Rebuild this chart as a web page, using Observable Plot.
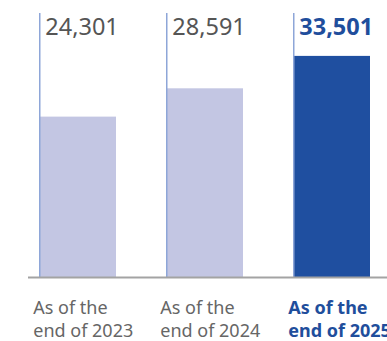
<!DOCTYPE html>
<html>
<head>
<meta charset="utf-8">
<script src="https://cdn.jsdelivr.net/npm/d3@7"></script>
<script src="https://cdn.jsdelivr.net/npm/@observablehq/plot@0.6"></script>
<style>
  html, body { margin: 0; padding: 0; background: #fff; }
  #chart svg { display: block; }
</style>
</head>
<body>
<div id="chart"></div>
<script>
const categories = ["2023", "2024", "2025"];
const values = [24301, 28591, 33501];
const labelPrefix = "As of the\nend of ";
const highlight = "2025";

const data = categories.map((c, i) => ({cat: c, value: values[i]}));

const light = "#c3c6e3";
const dark = "#1f4fa0";
const font = "'Noto Sans', sans-serif";

const rangeX = [39, 370.5];
const padIn = 0.39;
const step = (rangeX[1] - rangeX[0]) / (categories.length - padIn);
const bw = step * (1 - padIn);
const half = bw / 2;

const chart = Plot.plot({
  width: 387,
  height: 341,
  marginTop: 13,
  marginBottom: 64,
  marginLeft: 28,
  marginRight: 0,
  style: {fontFamily: font, background: "#fff"},
  x: {domain: categories, range: rangeX, paddingInner: padIn, paddingOuter: 0, axis: null},
  y: {domain: [0, 40000], axis: null},
  marks: [
    Plot.barY(data, {x: "cat", y: "value", fill: d => d.cat === highlight ? dark : light}),
    Plot.ruleX(data, {x: "cat", y1: 0, y2: 40000, dx: -half + 0.5, stroke: "#8ea6d8", strokeWidth: 1.5}),
    Plot.ruleY([0], {stroke: "#a3a3a3", strokeWidth: 2}),
    Plot.text(data.filter(d => d.cat !== highlight), {
      x: "cat", y: () => 40000, text: d => d3.format(",")(d.value),
      textAnchor: "start", lineAnchor: "top", dx: -half + 6, dy: 5,
      fontSize: 23.5, fill: "#555555"
    }),
    Plot.text(data.filter(d => d.cat === highlight), {
      x: "cat", y: () => 40000, text: d => d3.format(",")(d.value),
      textAnchor: "start", lineAnchor: "top", dx: -half + 6, dy: 5,
      fontSize: 23.5, fontWeight: "bold", fill: "#1f4e9c"
    }),
    Plot.text(data.filter(d => d.cat !== highlight), {
      x: "cat", y: () => 0, text: d => labelPrefix + d.cat,
      textAnchor: "start", lineAnchor: "top", dx: -half - 6, dy: 21,
      fontSize: 18, lineHeight: 1.25, fill: "#666666"
    }),
    Plot.text(data.filter(d => d.cat === highlight), {
      x: "cat", y: () => 0, text: d => labelPrefix + d.cat,
      textAnchor: "start", lineAnchor: "top", dx: -half - 5, dy: 21,
      fontSize: 18, lineHeight: 1.25, fontWeight: "bold", fill: "#1f4e9c"
    })
  ]
});
document.getElementById("chart").appendChild(chart);
</script>
</body>
</html>
